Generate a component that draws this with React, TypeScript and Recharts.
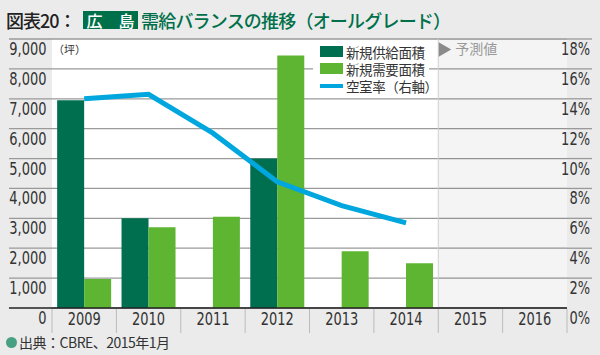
import {
  Bar,
  CartesianGrid,
  ComposedChart,
  Line,
  ReferenceArea,
  ReferenceLine,
  XAxis,
  YAxis,
} from 'recharts';

const YEARS = ['2009', '2010', '2011', '2012', '2013', '2014', '2015', '2016'];
const SUPPLY = [6950, 3000, null, 5000, null, null, null, null];
const DEMAND = [970, 2700, 3050, 8450, 1900, 1500, null, null];
const VACANCY = [14.0, 14.3, 11.7, 8.45, 6.85, 5.7, null, null];
const LEFT_TICKS = [0, 1000, 2000, 3000, 4000, 5000, 6000, 7000, 8000, 9000];
const RIGHT_TICKS = [0, 2, 4, 6, 8, 10, 12, 14, 16, 18];

const SUPPLY_COLOR = '#006f4f';
const DEMAND_COLOR = '#5db532';
const LINE_COLOR = '#00a6de';
const TITLE_GREEN = '#00704a';

const NARROW = '"Liberation Sans Narrow", "DejaVu Sans Condensed", sans-serif';
const JP = '"Noto Sans CJK JP", "Noto Sans", sans-serif';

const PLOT_LEFT = 52;
const PLOT_RIGHT = 567;

const data = YEARS.map((year, i) => ({
  year,
  supply: SUPPLY[i],
  demand: DEMAND[i],
  vacancy: VACANCY[i],
}));

// condensed-looking tick text
function TickText({ x, y, anchor, children }: any) {
  return (
    <text
      transform={`translate(${x},${y}) scale(0.85,1.05)`}
      textAnchor={anchor}
      fontFamily={NARROW}
      fontSize={17}
      fill="#333"
    >
      {children}
    </text>
  );
}

function LeftTick({ y, payload }: any) {
  const v = payload.value as number;
  return (
    <g>
      <line
        x1={9}
        x2={PLOT_LEFT}
        y1={y}
        y2={y}
        stroke={v === 0 ? '#222' : '#9a9a9a'}
        strokeWidth={v === 0 ? 1.6 : 1.3}
      />
      <TickText x={46.5} y={y + 16} anchor="end">
        {v.toLocaleString('en-US')}
      </TickText>
    </g>
  );
}

function RightTick({ y, payload }: any) {
  const v = payload.value as number;
  return (
    <g>
      {v !== 0 && (
        <line x1={PLOT_RIGHT} x2={592} y1={y} y2={y} stroke="#9a9a9a" strokeWidth={1.3} />
      )}
      <TickText x={590} y={y + 16} anchor="end">
        {v}%
      </TickText>
    </g>
  );
}

function YearTick({ x, y, payload, index }: any) {
  const half = (PLOT_RIGHT - PLOT_LEFT) / YEARS.length / 2;
  return (
    <g>
      <line x1={x - half} x2={x - half} y1={y - 7} y2={y + 17} stroke="#bbb" />
      {index === YEARS.length - 1 && (
        <line x1={x + half} x2={x + half} y1={y - 7} y2={y + 17} stroke="#bbb" />
      )}
      <TickText x={x} y={y + 9} anchor="middle">
        {payload.value}
      </TickText>
    </g>
  );
}

function ForecastLabel({ viewBox }: any) {
  const { x, y } = viewBox;
  return (
    <g>
      <polygon points={`${x},${y + 3} ${x + 13},${y + 10.5} ${x},${y + 18}`} fill="#8a8a8a" />
      <text x={x + 17} y={y + 15} fontFamily={JP} fontSize={14} fill="#999">
        予測値
      </text>
    </g>
  );
}

function LegendBox() {
  const rows = [
    { label: '新規供給面積', color: SUPPLY_COLOR, top: 4, h: 11 },
    { label: '新規需要面積', color: DEMAND_COLOR, top: 21, h: 11 },
    { label: '空室率（右軸）', color: LINE_COLOR, top: 42, h: 4 },
  ];
  return (
    <div
      style={{
        position: 'absolute',
        left: 313,
        top: 42,
        width: 116,
        height: 52,
        background: '#fff',
      }}
    >
      {rows.map((r) => (
        <div key={r.label}>
          <span
            style={{
              position: 'absolute',
              left: 7,
              top: r.top,
              width: 23,
              height: r.h,
              background: r.color,
            }}
          />
          <span
            style={{
              position: 'absolute',
              left: 33,
              top: r.top + r.h / 2 - 8,
              fontSize: 13.5,
              lineHeight: '16px',
              letterSpacing: -0.4,
              color: '#333',
              whiteSpace: 'nowrap',
            }}
          >
            {r.label}
          </span>
        </div>
      ))}
    </div>
  );
}

export default function App() {
  return (
    <div
      style={{
        position: 'absolute',
        left: 0,
        top: 0,
        width: 600,
        height: 355,
        background: '#ebebeb',
        fontFamily: JP,
        overflow: 'hidden',
      }}
    >
      <ComposedChart
        width={600}
        height={355}
        data={data}
        margin={{ top: 39, right: 0, bottom: 17, left: 0 }}
        barGap={0}
        barCategoryGap="8%"
        style={{ position: 'absolute', left: 0, top: 0 }}
      >
        <CartesianGrid
          yAxisId="left"
          vertical={false}
          fill="#fff"
          stroke="#9a9a9a"
          strokeWidth={1.3}
        />
        <ReferenceArea
          yAxisId="left"
          x1="2015"
          x2="2016"
          fill="#000"
          fillOpacity={0.045}
          stroke="none"
          label={ForecastLabel}
        />
        <ReferenceLine yAxisId="left" x="2015" position="start" stroke="#d0d0d0" />
        <XAxis
          dataKey="year"
          height={30}
          tickLine={false}
          axisLine={{ stroke: '#222', strokeWidth: 1.6 }}
          tick={YearTick}
          interval={0}
        />
        <YAxis
          yAxisId="left"
          width={PLOT_LEFT}
          domain={[0, 9000]}
          ticks={LEFT_TICKS}
          axisLine={false}
          tickLine={false}
          tick={LeftTick}
        />
        <YAxis
          yAxisId="right"
          orientation="right"
          width={600 - PLOT_RIGHT}
          domain={[0, 18]}
          ticks={RIGHT_TICKS}
          axisLine={false}
          tickLine={false}
          tick={RightTick}
        />
        <Bar yAxisId="left" dataKey="supply" fill={SUPPLY_COLOR} isAnimationActive={false} />
        <Bar yAxisId="left" dataKey="demand" fill={DEMAND_COLOR} isAnimationActive={false} />
        <Line
          yAxisId="right"
          dataKey="vacancy"
          stroke={LINE_COLOR}
          strokeWidth={5}
          dot={false}
          activeDot={false}
          isAnimationActive={false}
        />
      </ComposedChart>

      {/* title */}
      <div
        style={{
          position: 'absolute',
          left: 6,
          top: 8,
          fontSize: 18,
          lineHeight: '24px',
          fontWeight: 500,
          letterSpacing: -1,
          color: '#222',
          whiteSpace: 'nowrap',
        }}
      >
        図表20：
      </div>
      <div
        style={{
          position: 'absolute',
          left: 83,
          top: 11,
          width: 55,
          height: 18,
          background: TITLE_GREEN,
          color: '#fff',
          fontSize: 16,
          fontWeight: 500,
          lineHeight: '18px',
          textAlign: 'center',
          whiteSpace: 'nowrap',
        }}
      >
        広　島
      </div>
      <div
        style={{
          position: 'absolute',
          left: 141,
          top: 8,
          fontSize: 18,
          lineHeight: '24px',
          fontWeight: 500,
          letterSpacing: -0.8,
          color: TITLE_GREEN,
          whiteSpace: 'nowrap',
        }}
      >
        需給バランスの推移（オールグレード）
      </div>

      <div style={{ position: 'absolute', left: 53, top: 41, fontSize: 11, color: '#333' }}>
        （坪）
      </div>

      <LegendBox />

      <div
        style={{
          position: 'absolute',
          left: 6,
          top: 332,
          display: 'flex',
          alignItems: 'center',
          fontSize: 14,
          letterSpacing: -0.5,
          color: '#333',
          whiteSpace: 'nowrap',
        }}
      >
        <span
          style={{
            display: 'inline-block',
            width: 11,
            height: 11,
            borderRadius: '50%',
            background: '#48a083',
            marginRight: 2,
          }}
        />
        出典：CBRE、2015年1月
      </div>
    </div>
  );
}
